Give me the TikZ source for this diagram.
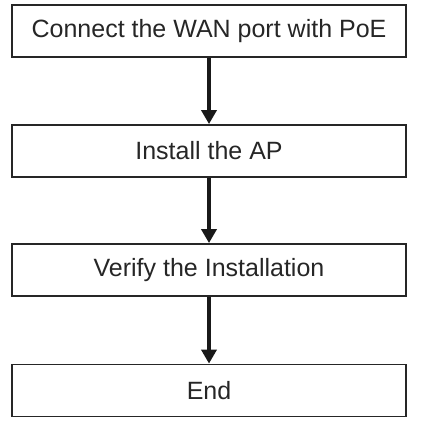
\documentclass[tikz,border=0pt]{standalone}
\usepackage{fontspec}
\setmainfont{Liberation Sans}
\usetikzlibrary{arrows.meta}
\begin{document}
\begin{tikzpicture}[x=1pt,y=1pt,
  stepbox/.style={draw=black!85, line width=1.8pt, minimum width=394pt, minimum height=52pt, inner sep=0pt, font=\fontsize{25}{29}\selectfont, text=black!85},
  flow/.style={line width=3.5pt, draw=black!90, -{Triangle[length=14pt,width=15pt]}}]
\useasboundingbox (0,0) rectangle (422,427);
\node[stepbox] (a) at (209,396) {Connect the WAN port with PoE};
\node[stepbox] (b) at (209,276) {Install the AP};
\node[stepbox] (c) at (209,157) {Verify the Installation};
\node[stepbox] (d) at (209,36.5) {End};
\draw[flow] (a) -- (b);
\draw[flow] (b) -- (c);
\draw[flow] (c) -- (d);
\end{tikzpicture}
\end{document}
